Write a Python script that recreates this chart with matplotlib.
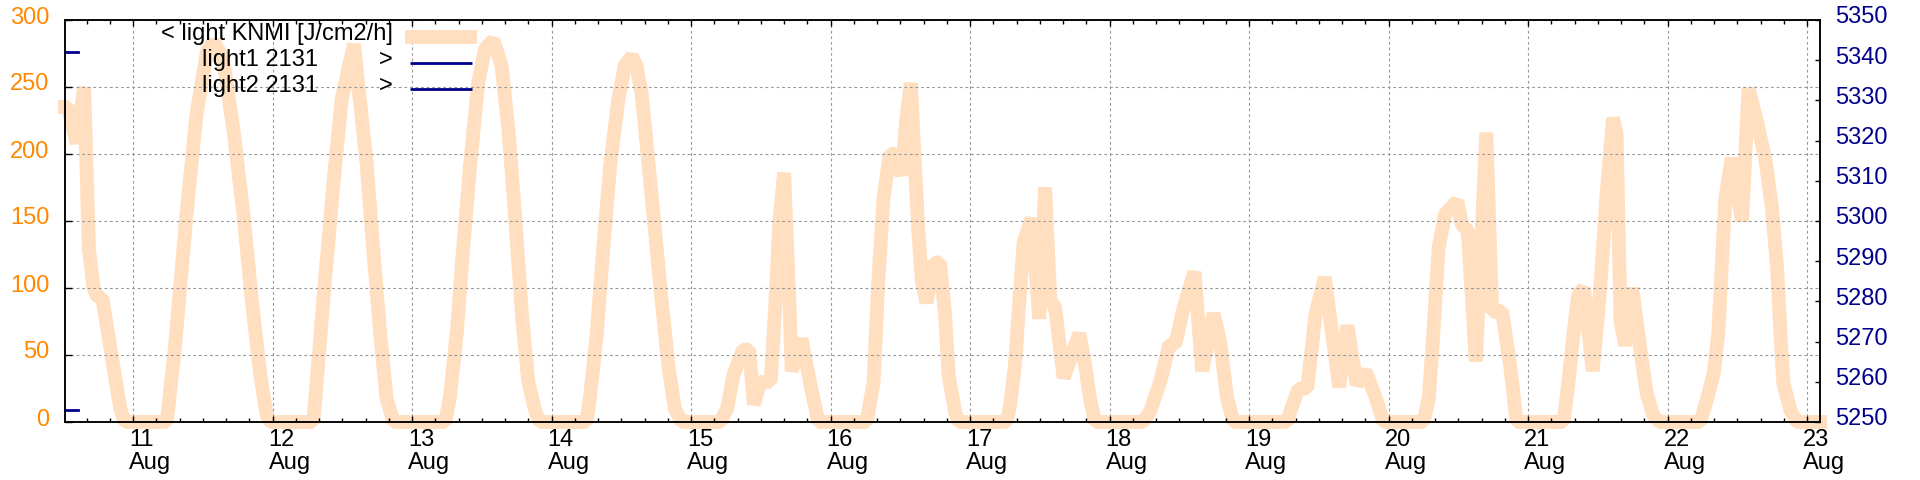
import matplotlib
matplotlib.use("Agg")
import matplotlib.pyplot as plt
import matplotlib.transforms as mtransforms
from matplotlib.lines import Line2D

plt.rcParams['font.family'] = ['Liberation Sans', 'DejaVu Sans']

# time in hours since 10 Aug 00:00, KNMI hourly light [J/cm2/h]
hours = [12.3, 12.8, 14.3, 15.6, 16.4, 17.2, 17.9, 18.7, 20.6, 21.8, 22.6,
         29.8, 31.2, 33.2, 34.9, 36.7, 37.9, 39.5, 41.3, 43.0, 44.4, 45.9, 47.0, 47.6,
         55.0, 55.6, 57.0, 58.5, 59.9, 62.0, 63.0, 64.2, 65.3, 66.5, 67.6, 68.8,
         77.7, 78.5, 79.7, 80.8, 82.0, 83.4, 84.6, 86.0, 87.4, 88.6, 89.7, 90.9, 92.0, 93.2, 94.0,
         102.0, 102.6, 103.8, 104.9, 106.1, 107.5, 108.6, 109.8, 110.6, 111.5, 112.7, 113.8,
         114.9, 116.1, 117.2, 118.4,
         125.0, 126.2, 127.3, 128.9, 130.0, 130.8, 131.9, 133.7, 134.4, 135.2, 136.0, 137.0,
         137.3, 139.0, 139.9, 141.0, 141.9,
         150.2, 151.4, 152.2, 153.1, 154.2, 155.1, 156.2, 157.1, 157.8, 158.5, 159.1, 159.7,
         160.5, 161.8, 162.8, 163.7, 164.3, 165.4, 166.0,
         174.3, 174.9, 175.7, 176.5, 177.2, 178.6, 179.9, 180.9, 181.8, 182.6, 184.1, 186.8,
         187.8, 188.6, 189.5,
         197.8, 199.0, 200.7, 202.3, 203.3, 204.7, 206.6, 207.9, 209.9, 211.0, 212.2, 213.3,
         222.5, 223.1, 224.5, 226.0, 227.4, 229.0, 231.5, 232.9, 234.5, 236.0, 237.8, 239.1,
         246.0, 246.9, 247.7, 248.6, 249.7, 251.8, 252.6, 253.6, 255.0, 256.8, 257.8, 259.5,
         260.9, 262.0,
         270.1, 270.9, 271.8, 272.6, 273.6, 275.1, 276.4, 277.5, 278.6, 279.2, 279.9, 280.7,
         281.9, 283.3, 284.4, 285.6, 286.7,
         293.6, 294.7, 295.9, 296.7, 297.3, 297.9, 299.0, 300.8, 301.9, 303.3, 304.8, 305.9,
         306.8, 307.4, 307.9, 309.1, 310.2, 314.2]
light_knmi = [235, 235, 208, 250, 130, 100, 93, 93, 42, 10, 0,
              0, 55, 155, 229, 276, 284, 271, 217, 155, 92, 35, 5, 0,
              0, 30, 105, 179, 241, 282, 241, 192, 130, 67, 18, 0,
              0, 18, 67, 130, 192, 254, 279, 285, 266, 217, 155, 80, 30, 8, 0,
              0, 18, 67, 130, 192, 241, 266, 273, 266, 245, 192, 142,
              92, 42, 10, 0,
              0, 10, 35, 54, 54, 13, 30, 30, 80, 150, 186, 80,
              38, 62, 42, 18, 0,
              0, 30, 105, 167, 200, 200, 184, 229, 253, 192, 142, 105,
              89, 119, 119, 80, 35, 8, 0,
              0, 13, 42, 92, 134, 152, 77, 175, 90, 86, 33, 66,
              42, 18, 0,
              0, 8, 30, 58, 58, 85, 112, 38, 81, 60, 18, 0,
              0, 8, 25, 25, 80, 108, 26, 72, 28, 38, 18, 0,
              0, 18, 67, 130, 155, 165, 147, 143, 45, 216, 82, 83,
              42, 0,
              0, 29, 66, 95, 100, 38, 100, 170, 227, 215, 75, 57,
              100, 54, 21, 4, 0,
              0, 16, 36, 66, 116, 166, 197, 150, 249, 225, 196, 161,
              116, 66, 29, 9, 0, 0]

light1_hours = [12.3, 14.5]
light1 = [5342, 5342]
light2_hours = [12.3, 14.5]
light2 = [5253, 5253]

day_ticks = [24 * i for i in range(1, 14)]
day_labels = [f"{d}\nAug" for d in range(11, 24)]

peach = '#ffdfc0'
orange = '#ff8800'
navy = '#00008b'
grid_col = '#999999'

fig = plt.figure(figsize=(19.2, 4.8), dpi=100)
ax = fig.add_axes([65 / 1920, 58 / 480, 1755 / 1920, 402 / 480])
ax2 = ax.twinx()

ax.plot(hours, light_knmi, color=peach, lw=10, solid_joinstyle='bevel',
        solid_capstyle='projecting', clip_on=False, zorder=2)
ax2.plot(light1_hours, light1, color=navy, lw=2, clip_on=False)
ax2.plot(light2_hours, light2, color=navy, lw=2, clip_on=False)

ax.set_xlim(12.3, 314.2)
ax.set_ylim(0, 300)
ax2.set_ylim(5250, 5350)

ax.set_xticks(day_ticks)
ax.set_xticklabels(day_labels, ha='left', linespacing=1.05)
ax.set_xticks(range(16, 316, 4), minor=True)
ax.set_yticks(range(0, 301, 50))
ax2.set_yticks(range(5250, 5351, 10))

ax.tick_params(axis='x', which='both', direction='in', top=True, labelsize=17, pad=5)
ax.tick_params(axis='x', which='major', length=4, width=1)
ax.tick_params(axis='x', which='minor', length=3, width=1)
ax.tick_params(axis='y', direction='in', right=False, length=5, width=1,
               labelsize=17, labelcolor=orange, pad=11)
ax2.tick_params(axis='y', direction='in', length=3.5, width=1,
                labelsize=17, labelcolor=navy, pad=11)

dx = mtransforms.ScaledTranslation(-4 / 100, 0, fig.dpi_scale_trans)
for lab in ax.get_xticklabels():
    lab.set_transform(lab.get_transform() + dx)
    lab.set_multialignment('left')
dy = mtransforms.ScaledTranslation(0, 5 / 100, fig.dpi_scale_trans)
for lab in ax.get_yticklabels() + ax2.get_yticklabels():
    lab.set_transform(lab.get_transform() + dy)

ax.grid(True, which='major', color=grid_col, lw=0.8, linestyle=(0, (2.5, 2.5)), zorder=3)
ax.set_axisbelow(False)

for a in (ax, ax2):
    for s in a.spines.values():
        s.set_linewidth(1.1)
        s.set_zorder(5)

# gnuplot style key, top left
def fx(px):
    return px / 1920

def fy(py):
    return 1 - py / 480

key_rows = [("< light KNMI [J/cm2/h]", "", peach, 10, 37, 405, 477),
            ("light1 2131", ">", navy, 2, 63, 410, 472),
            ("light2 2131", ">", navy, 2, 89, 410, 472)]
text_right = [393, 318, 318]
baselines = [40, 66, 92]
for (title, arrow, col, lw, ly, x0, x1), xr, yb in zip(key_rows, text_right, baselines):
    fig.text(fx(xr), fy(yb), title, ha='right', va='baseline', fontsize=17, zorder=10)
    if arrow:
        fig.text(fx(393), fy(yb), arrow, ha='right', va='baseline', fontsize=17, zorder=10)
    fig.add_artist(Line2D([fx(x0), fx(x1)], [fy(ly), fy(ly)], color=col, lw=lw,
                          solid_capstyle='butt'))

fig.savefig('out.png', dpi=100)
